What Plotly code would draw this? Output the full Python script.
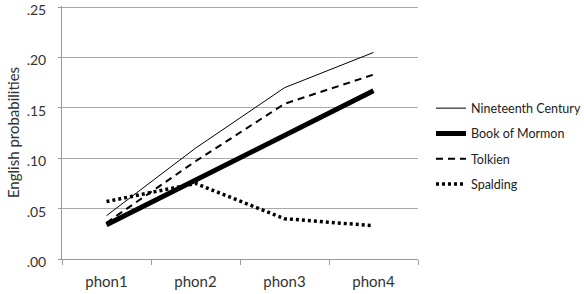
import plotly.graph_objects as go

categories = ["phon1", "phon2", "phon3", "phon4"]
nineteenth = [0.043, 0.110, 0.170, 0.205]
mormon = [0.034, 0.078, 0.122, 0.167]
tolkien = [0.036, 0.097, 0.154, 0.183]
spalding = [0.057, 0.075, 0.040, 0.033]
ytick_vals = [0.0, 0.05, 0.10, 0.15, 0.20, 0.25]
ytick_text = [".00", ".05", ".10", ".15", ".20", ".25"]

W, H = 584, 294
L, R, T, B = 62, 166, 6, 35
pw = W - L - R
ph = H - T - B

series = [
    ("Nineteenth Century", nineteenth, dict(color="black", width=1, dash="solid")),
    ("Book of Mormon", mormon, dict(color="black", width=5, dash="solid")),
    ("Tolkien", tolkien, dict(color="black", width=2, dash="7px,5px")),
    ("Spalding", spalding, dict(color="black", width=3.5, dash="3px,3px")),
]

fig = go.Figure()
for i, (name, vals, line) in enumerate(series):
    fig.add_trace(go.Scatter(
        x=categories, y=vals, name=name, mode="lines", line=line,
        legendgroup=f"g{i}",
    ))

font = "Lato, 'Open Sans', sans-serif"
fig.update_layout(
    width=W, height=H,
    margin=dict(l=L, r=R, t=T, b=B, autoexpand=False),
    paper_bgcolor="white", plot_bgcolor="white",
    font=dict(family=font, size=15, color="#333333"),
    showlegend=True,
    legend=dict(
        x=(431 - L) / pw, xanchor="left",
        y=1 - (146 - T) / ph, yanchor="middle", yref="paper",
        font=dict(size=12.5, color="#222222"),
        tracegroupgap=6,
        bgcolor="rgba(0,0,0,0)",
    ),
    xaxis=dict(
        type="category", range=[-0.5, 3.5],
        showgrid=False, showline=True, linecolor="#9a9a9a", linewidth=1,
        ticks="outside", tickson="boundaries", ticklen=5, tickcolor="#9a9a9a",
        tickfont=dict(size=15, color="#333333"),
        ticklabelstandoff=9,
        zeroline=False,
    ),
    yaxis=dict(
        range=[0, 0.2511],
        tickvals=ytick_vals, ticktext=ytick_text,
        showgrid=True, gridcolor="#a8a8a8", gridwidth=1,
        showline=True, linecolor="#9a9a9a", linewidth=1,
        ticks="outside", ticklen=3, tickcolor="#9a9a9a",
        tickfont=dict(size=14, color="#333333"),
        ticklabeloverflow="allow",
        ticklabelstandoff=9,
        ticklabelshift=3,
        zeroline=False,
        title=dict(text="English probabilities", font=dict(size=15, color="#333333"), standoff=3),
    ),
)

fig.write_html("out.html")
